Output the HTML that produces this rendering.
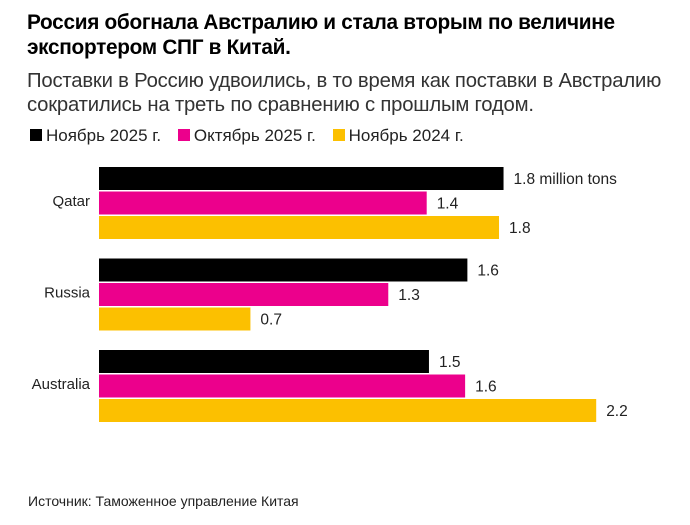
<!DOCTYPE html>
<html><head><meta charset="utf-8"><style>
body{margin:0;background:#fff;font-family:"Liberation Sans",sans-serif;}
#wrap{position:relative;width:690px;height:525px;overflow:hidden;}
.t{position:absolute;white-space:nowrap;}
</style></head><body>
<div id="wrap">
<div class="t" style="left:27px;top:10px;font-size:20.8px;font-weight:bold;line-height:25px;color:#000;letter-spacing:-0.3px">Россия обогнала Австралию и стала вторым по величине<br>экспортером СПГ в Китай.</div>
<div class="t" style="left:27px;top:69px;font-size:20.3px;line-height:24px;color:#333;letter-spacing:-0.2px">Поставки в Россию удвоились, в то время как поставки в Австралию<br>сократились на треть по сравнению с прошлым годом.</div>
<div class="t" style="left:30px;top:126px;font-size:17px;color:#222">
<span><span style="display:inline-block;width:12px;height:12px;background:#000;margin-right:4px"></span>Ноябрь 2025 г.</span>
<span style="margin-left:12px"><span style="display:inline-block;width:12px;height:12px;background:#ec008c;margin-right:4px"></span>Октябрь 2025 г.</span>
<span style="margin-left:12px"><span style="display:inline-block;width:12px;height:12px;background:#fcc000;margin-right:4px"></span>Ноябрь 2024 г.</span>
</div>
<svg id="chart" width="690" height="525" style="position:absolute;left:0;top:0"></svg>
<div class="t" style="left:28px;top:493px;font-size:14px;color:#222">Источник: Таможенное управление Китая</div>
</div>
<script>
const categories=["Qatar","Russia","Australia"];
const nov2025=[1.79,1.63,1.46];
const oct2025=[1.45,1.28,1.62];
const nov2024=[1.77,0.67,2.2];
const labNov2025=["1.8 million tons","1.6","1.5"];
const labOct2025=["1.4","1.3","1.6"];
const labNov2024=["1.8","0.7","2.2"];
const colors=["#000","#ec008c","#fcc000"];
const svg=document.getElementById('chart');
const NS="http://www.w3.org/2000/svg";
const x0=99, k=226;
function xs(v){return x0+v*k;}
function gy(i){return 167+i*91.5;}
const series=[nov2025,oct2025,nov2024];
const labs=[labNov2025,labOct2025,labNov2024];
categories.forEach((c,i)=>{
  const t=document.createElementNS(NS,'text');
  t.setAttribute('x',90);t.setAttribute('y',gy(i)+39);
  t.setAttribute('text-anchor','end');t.setAttribute('font-size','15');t.setAttribute('fill','#222');
  t.setAttribute('font-family','Liberation Sans, sans-serif');
  
  
  t.textContent=c;svg.appendChild(t);
  series.forEach((s,j)=>{
    const y=gy(i)+j*24.5;
    const r=document.createElementNS(NS,'rect');
    r.setAttribute('x',x0);r.setAttribute('y',y);
    r.setAttribute('width',xs(s[i])-x0);r.setAttribute('height',23);
    r.setAttribute('fill',colors[j]);
    
    
    svg.appendChild(r);
    const l=document.createElementNS(NS,'text');
    l.setAttribute('x',xs(s[i])+10);l.setAttribute('y',y+17);
    l.setAttribute('font-size','15.5');l.setAttribute('fill','#222');
    l.setAttribute('font-family','Liberation Sans, sans-serif');
    
    
    l.textContent=labs[j][i];svg.appendChild(l);
  });
});
</script>
</body></html>
